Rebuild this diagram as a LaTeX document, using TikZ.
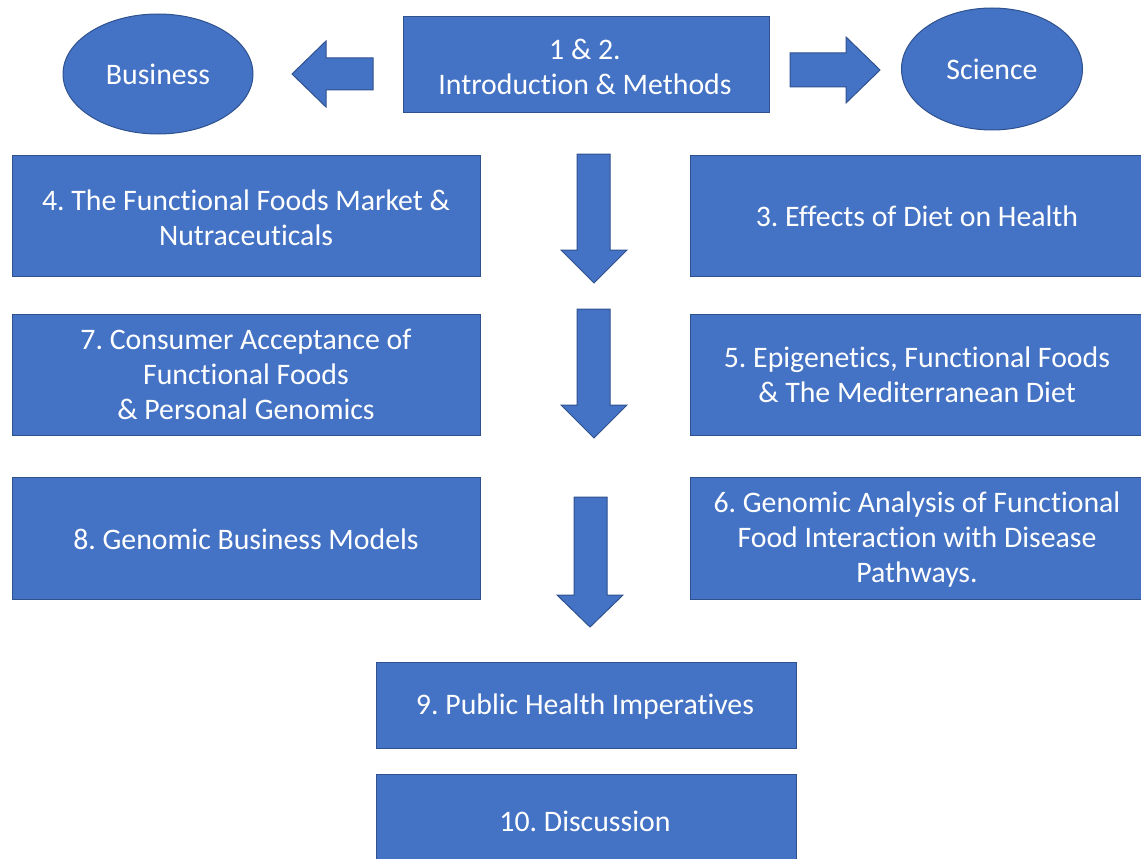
\documentclass[tikz,border=0pt]{standalone}
\usepackage{fontspec}
\setmainfont[Ligatures=CommonOff]{Carlito}
\usetikzlibrary{shapes.geometric}
\definecolor{boxfill}{HTML}{4472C4}
\definecolor{boxline}{HTML}{2F528F}
\frenchspacing
\begin{document}
\begin{tikzpicture}[x=1pt,y=-1pt,
  every node/.style={font=\fontsize{29.8}{35}\selectfont\frenchspacing, text=white, align=center},
  boxshape/.style={fill=boxfill, draw=boxline, line width=1pt},
  blockarrow/.style={fill=boxfill, draw=boxline, line width=1pt, line join=miter}]
\useasboundingbox (0,0) rectangle (1141,859);
% boxes
\draw[boxshape] (403,17) rectangle (769,112);
\node (b12) at (585,66.5) {1 \& 2.\\Introduction \& Methods};
\draw[boxshape] (12,155) rectangle (480,276);
\node (b4) at (246,217.5) {4. The Functional Foods Market \&\\Nutraceuticals};
\draw[boxshape] (690,155) rectangle (1150,276);
\node (b3) at (917,216.5) {3. Effects of Diet on Health};
\draw[boxshape] (12,314) rectangle (480,435);
\node (b7) at (246,374.5) {7. Consumer Acceptance of\\Functional Foods\\\& Personal Genomics};
\draw[boxshape] (690,314) rectangle (1150,435);
\node (b5) at (917,375) {5. Epigenetics, Functional Foods\\\& The Mediterranean Diet};
\draw[boxshape] (12,477) rectangle (480,599);
\node (b8) at (246,539.5) {8. Genomic Business Models};
\draw[boxshape] (690,477) rectangle (1150,599);
\node (b6) at (917,540) {6. Genomic Analysis of Functional\\Food Interaction with Disease\\Pathways.};
\draw[boxshape] (376,662) rectangle (796,748);
\node (b9) at (585,706.5) {9. Public Health Imperatives};
\draw[boxshape] (376,774) rectangle (796,870);
\node (b10) at (585,821.5) {10. Discussion};
% ellipses
\node[ellipse, boxshape, minimum width=190pt, minimum height=120pt, inner sep=0pt] (bus) at (158,74) {Business};
\node[ellipse, boxshape, minimum width=181pt, minimum height=122pt, inner sep=0pt] (sci) at (992,69) {Science};
% block arrows
\draw[blockarrow] (373,58) -- (326,58) -- (326,41) -- (292,74) -- (326,107) -- (326,90) -- (373,90) -- cycle;
\draw[blockarrow] (790,53) -- (846,53) -- (846,37) -- (880,70) -- (846,103) -- (846,87) -- (790,87) -- cycle;
\draw[blockarrow] (577,154) -- (610,154) -- (610,250) -- (627,250) -- (594,283) -- (561,250) -- (577,250) -- cycle;
\draw[blockarrow] (577,309) -- (610,309) -- (610,405) -- (627,405) -- (594,438) -- (561,405) -- (577,405) -- cycle;
\draw[blockarrow] (574,497) -- (607,497) -- (607,595) -- (623,595) -- (590,627) -- (557,595) -- (574,595) -- cycle;
\end{tikzpicture}
\end{document}
